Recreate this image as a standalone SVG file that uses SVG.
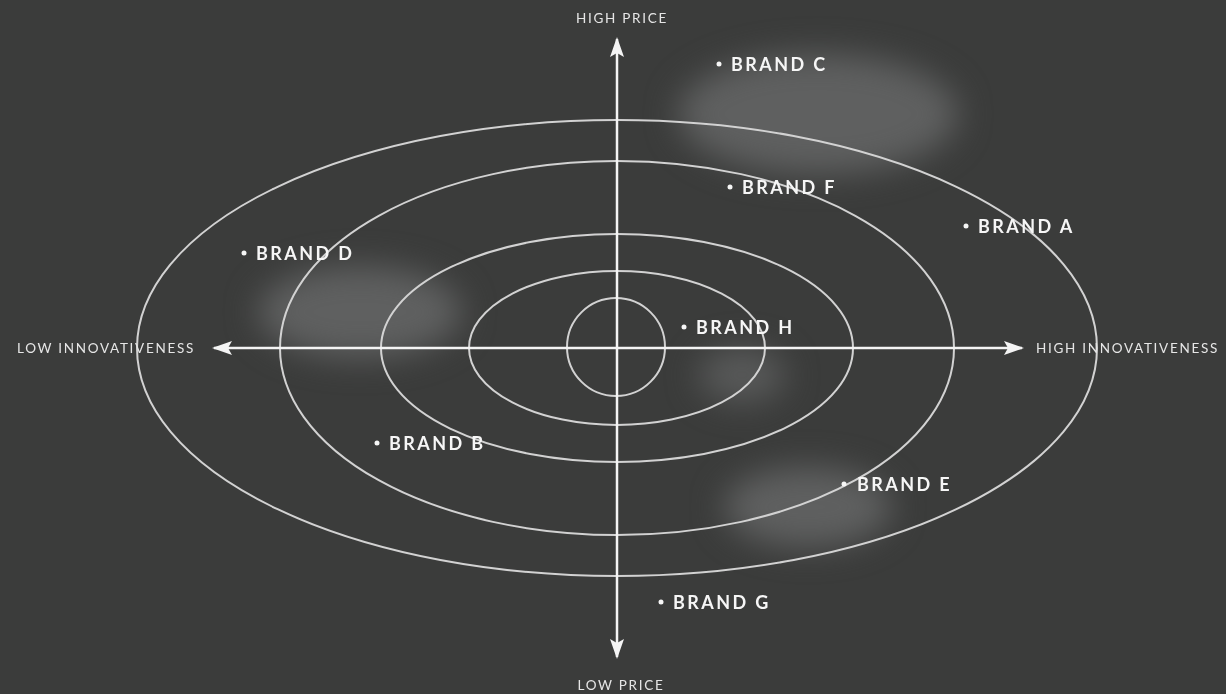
<svg xmlns="http://www.w3.org/2000/svg" width="1226" height="694" viewBox="0 0 1226 694">
<style>
.ring{fill:none;stroke:#d2d2d2;stroke-width:2}
.axis{stroke:#f4f4f4;stroke-width:2.5;fill:none}
.axlbl{font-family:"Lato","Liberation Sans",sans-serif;font-size:13.5px;fill:#e6e6e6;letter-spacing:1.7px}
.brand{font-family:"Lato","Liberation Sans",sans-serif;font-weight:bold;font-size:18px;fill:#f6f6f6;letter-spacing:2.4px}
.dot{fill:#f6f6f6}
.blob{fill:#5f6060}
</style>
<defs>
<filter id="soft" x="-50%" y="-50%" width="200%" height="200%" color-interpolation-filters="sRGB"><feGaussianBlur stdDeviation="16"/></filter>
<marker id="arr" viewBox="0 0 20 14" refX="18" refY="7" markerWidth="20" markerHeight="14" markerUnits="userSpaceOnUse" orient="auto"><path d="M0,0 L20,7 L0,14 L4,7 Z" fill="#f4f4f4"/></marker>
</defs>
<rect width="1226" height="694" fill="#3b3c3b"/>
<g id="blobs" filter="url(#soft)">
<ellipse class="blob" cx="818" cy="114" rx="140" ry="60"/>
<ellipse class="blob" cx="360" cy="312" rx="102" ry="46"/>
<ellipse class="blob" cx="742" cy="375" rx="44" ry="28" opacity="0.8"/>
<ellipse class="blob" cx="808" cy="507" rx="84" ry="40"/>
</g>
<g id="rings">
<ellipse class="ring" cx="617" cy="348" rx="480" ry="228"/>
<ellipse class="ring" cx="617" cy="348" rx="337" ry="187"/>
<ellipse class="ring" cx="617" cy="348" rx="236" ry="114"/>
<ellipse class="ring" cx="617" cy="348" rx="148" ry="77"/>
<ellipse class="ring" cx="616" cy="347" rx="49" ry="49"/>
</g>
<g id="connectors">
<line class="axis" x1="617" y1="348" x2="617" y2="39" marker-end="url(#arr)"/>
<line class="axis" x1="617" y1="348" x2="617" y2="657" marker-end="url(#arr)"/>
<line class="axis" x1="617" y1="348" x2="214" y2="348" marker-end="url(#arr)"/>
<line class="axis" x1="617" y1="348" x2="1022" y2="348" marker-end="url(#arr)"/>
</g>
<g id="axis-labels">
<text class="axlbl" x="622" y="23" text-anchor="middle">HIGH PRICE</text>
<text class="axlbl" x="621" y="690" text-anchor="middle">LOW PRICE</text>
<text class="axlbl" x="17" y="353">LOW INNOVATIVENESS</text>
<text class="axlbl" x="1036" y="353">HIGH INNOVATIVENESS</text>
</g>
<g id="brand-c"><circle class="dot" cx="719" cy="64" r="2.5"/><text class="brand" x="731" y="71">BRAND C</text></g>
<g id="brand-f"><circle class="dot" cx="730" cy="187" r="2.5"/><text class="brand" x="742" y="194">BRAND F</text></g>
<g id="brand-a"><circle class="dot" cx="966" cy="226" r="2.5"/><text class="brand" x="978" y="233">BRAND A</text></g>
<g id="brand-d"><circle class="dot" cx="244" cy="253" r="2.5"/><text class="brand" x="256" y="260">BRAND D</text></g>
<g id="brand-h"><circle class="dot" cx="684" cy="327" r="2.5"/><text class="brand" x="696" y="334">BRAND H</text></g>
<g id="brand-b"><circle class="dot" cx="377" cy="443" r="2.5"/><text class="brand" x="389" y="450">BRAND B</text></g>
<g id="brand-e"><circle class="dot" cx="844" cy="484" r="2.5"/><text class="brand" x="857" y="491">BRAND E</text></g>
<g id="brand-g"><circle class="dot" cx="661" cy="602" r="2.5"/><text class="brand" x="673" y="609">BRAND G</text></g>
</svg>
